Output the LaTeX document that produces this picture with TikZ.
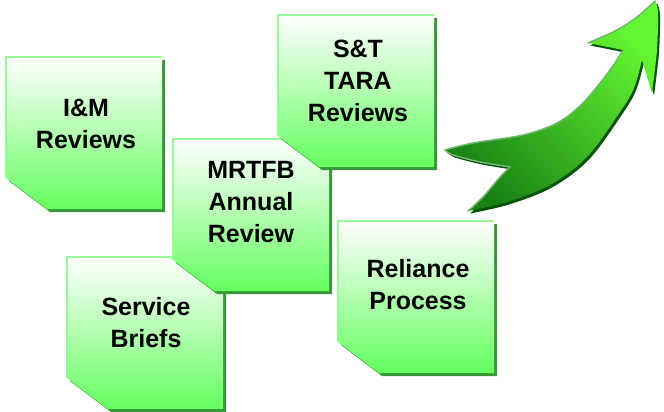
\documentclass[tikz,border=0pt]{standalone}
\usepackage{fontspec}
\setmainfont{Liberation Sans}
\definecolor{boxgreen}{RGB}{100,255,95}
\definecolor{boxedge}{RGB}{150,250,150}
\definecolor{boxshadow}{RGB}{55,150,55}
\definecolor{arrowdark}{RGB}{25,130,20}
\definecolor{arrowbright}{RGB}{100,245,50}
\definecolor{arrowlight}{RGB}{115,180,115}
\definecolor{arrowshadow}{RGB}{0,85,0}
\tikzset{
  boxtext/.style={font=\fontsize{25}{32}\selectfont\bfseries, align=center, text=black, inner sep=0pt},
  boxfill/.style={top color=white, bottom color=boxgreen},
  arrowfill/.style={top color=arrowbright, bottom color=arrowdark, shading angle=-45},
  hilite/.style={arrowlight, line width=1.5pt, line cap=round, line join=round},
}
\newcommand\greenbox[2]{%
  \begin{scope}[shift={(#1,#2)}]
    \fill[boxshadow] (3,3) -- (159,3) -- (159,155) -- (44,155) -- (3,124) -- cycle;
    \shade[boxfill] (0,0) -- (156,0) -- (156,152) -- (41,152) -- (0,121) -- cycle;
    \draw[boxedge, line width=1.5pt] (0,121) -- (0,0) -- (156,0);
  \end{scope}}
\def\arrowpath{(445,150) -- plot[smooth, tension=0.55] coordinates {(445,150) (473,143) (523,135) (557,123) (583,103) (610,70) (623,50)}
  -- (588,43) -- plot[smooth] coordinates {(588,43) (617,30) (637,17) (655,1)}
  -- plot[smooth] coordinates {(655,1) (658,12) (657,50) (652,93)}
  -- (642,60)
  -- plot[smooth, tension=0.55] coordinates {(642,60) (634,88) (620,112) (587,157) (550,185) (507,202) (468,211)}
  -- plot[smooth] coordinates {(468,211) (483,197) (500,177) (510,167)}
  -- plot[smooth] coordinates {(510,167) (480,162) (453,155) (445,150)} -- cycle}
\begin{document}
\begin{tikzpicture}[x=1pt,y=-1pt]
\useasboundingbox (0,0) rectangle (664,412);
% boxes in stacking order
\greenbox{6}{57}
\node[boxtext] (im) at (86,123.5) {I\&M\\Reviews};
\greenbox{67}{257}
\node[boxtext] (sb) at (146,323) {Service\\Briefs};
\greenbox{173}{139}
\node[boxtext] (mr) at (251,202.5) {MRTFB\\Annual\\Review};
\greenbox{278}{15}
\node[boxtext] (st) at (358,80.5) {S\&T\\TARA\\Reviews};
\greenbox{338}{221}
\node[boxtext] (rp) at (418,284.5) {Reliance\\Process};
% arrow
\fill[arrowshadow, shift={(2,2.5)}] \arrowpath;
\shade[arrowfill] \arrowpath;
\draw[hilite] plot[smooth, tension=0.55] coordinates {(445,150) (473,143) (523,135) (557,123) (583,103) (610,70) (623,50)};
\draw[hilite] plot[smooth] coordinates {(588,43) (617,30) (637,17) (655,1)};
\draw[hilite] plot[smooth] coordinates {(445,150) (453,155) (480,162) (510,167)};
\draw[hilite] plot[smooth] coordinates {(510,167) (500,177) (483,197) (468,211)};
\end{tikzpicture}
\end{document}
